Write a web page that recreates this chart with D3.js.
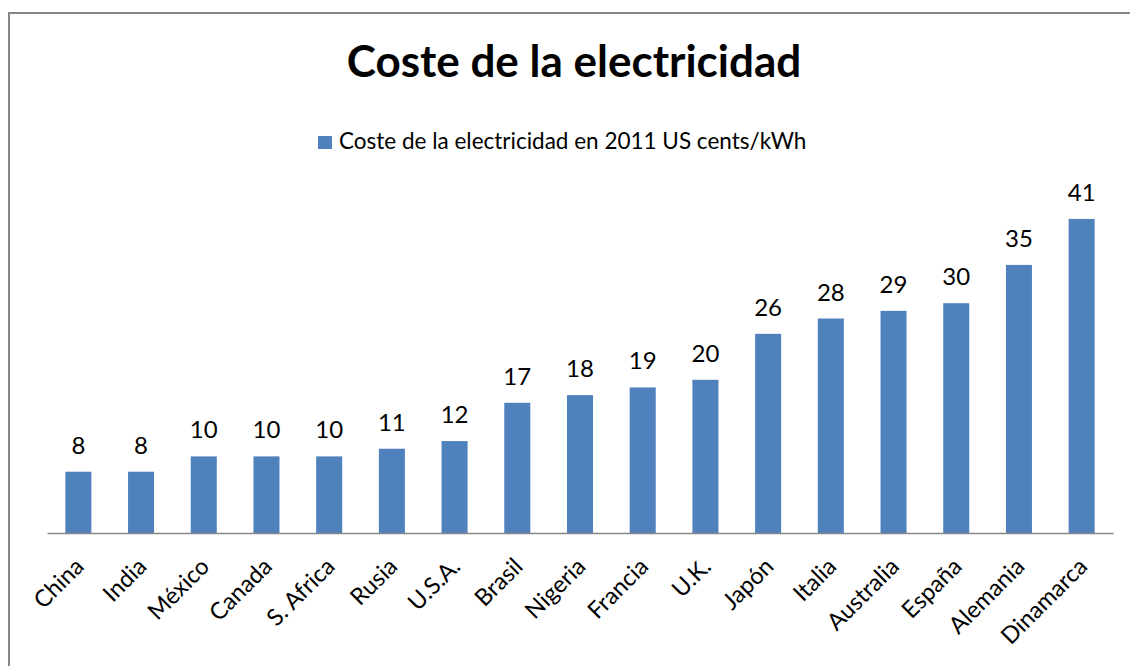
<!DOCTYPE html>
<html><head><meta charset="utf-8">
<script src="https://cdn.jsdelivr.net/npm/d3@7"></script>
<style>body{margin:0;background:#fff}svg{display:block}</style>
</head><body>
<svg id="c" width="1130" height="666"></svg>
<script>
const categories = ["China","India","México","Canada","S. Africa","Rusia","U.S.A.","Brasil","Nigeria","Francia","U.K.","Japón","Italia","Australia","España","Alemania","Dinamarca"];
const values = [8,8,10,10,10,11,12,17,18,19,20,26,28,29,30,35,41];
const titleText = "Coste de la electricidad";
const seriesName = "Coste de la electricidad en 2011 US cents/kWh";

const FONT = "Lato, 'Open Sans', sans-serif";
const svg = d3.select("#c");
svg.append("rect").attr("x",9).attr("y",13).attr("width",1300).attr("height",800)
  .attr("fill","#fff").attr("stroke","#868686").attr("stroke-width",2);

const x = d3.scaleBand().domain(categories).range([47,1113]).paddingInner(0.585).paddingOuter(0.2925);
const y = d3.scaleLinear().domain([0,45]).range([533,533-45*7.66]);

svg.append("text").attr("x",574).attr("y",77).attr("text-anchor","middle")
  .attr("font-family",FONT).attr("font-weight","bold").attr("font-size",44).attr("fill","#000").text(titleText);

svg.append("rect").attr("x",318).attr("y",136).attr("width",14).attr("height",13).attr("fill","#4F81BD");
svg.append("text").attr("x",339).attr("y",149).attr("font-family",FONT).attr("font-size",22.5).attr("fill","#000").text(seriesName);

const g = svg.append("g");
g.selectAll("rect.bar").data(values).join("rect").attr("class","bar")
  .attr("x",(d,i)=>x(categories[i])).attr("width",x.bandwidth())
  .attr("y",d=>y(d)).attr("height",d=>y(0)-y(d)).attr("fill","#4F81BD");
g.selectAll("text.val").data(values).join("text").attr("class","val")
  .attr("x",(d,i)=>x(categories[i])+x.bandwidth()/2).attr("y",d=>y(d)-18)
  .attr("text-anchor","middle").attr("font-family",FONT).attr("font-size",24).attr("fill","#000").text(d=>d);

const axis = d3.axisBottom(x).tickSize(0).tickPadding(0);
const ag = svg.append("g").attr("transform","translate(0,533)").call(axis);
ag.select(".domain").attr("stroke","#888").attr("stroke-width",1.5);
ag.selectAll(".tick text").attr("font-family",FONT).attr("font-size",23.5).attr("fill","#000")
  .attr("text-anchor","end").attr("dy",0).attr("y",0)
  .attr("transform","translate(7,35) rotate(-45)");
</script>
</body></html>
